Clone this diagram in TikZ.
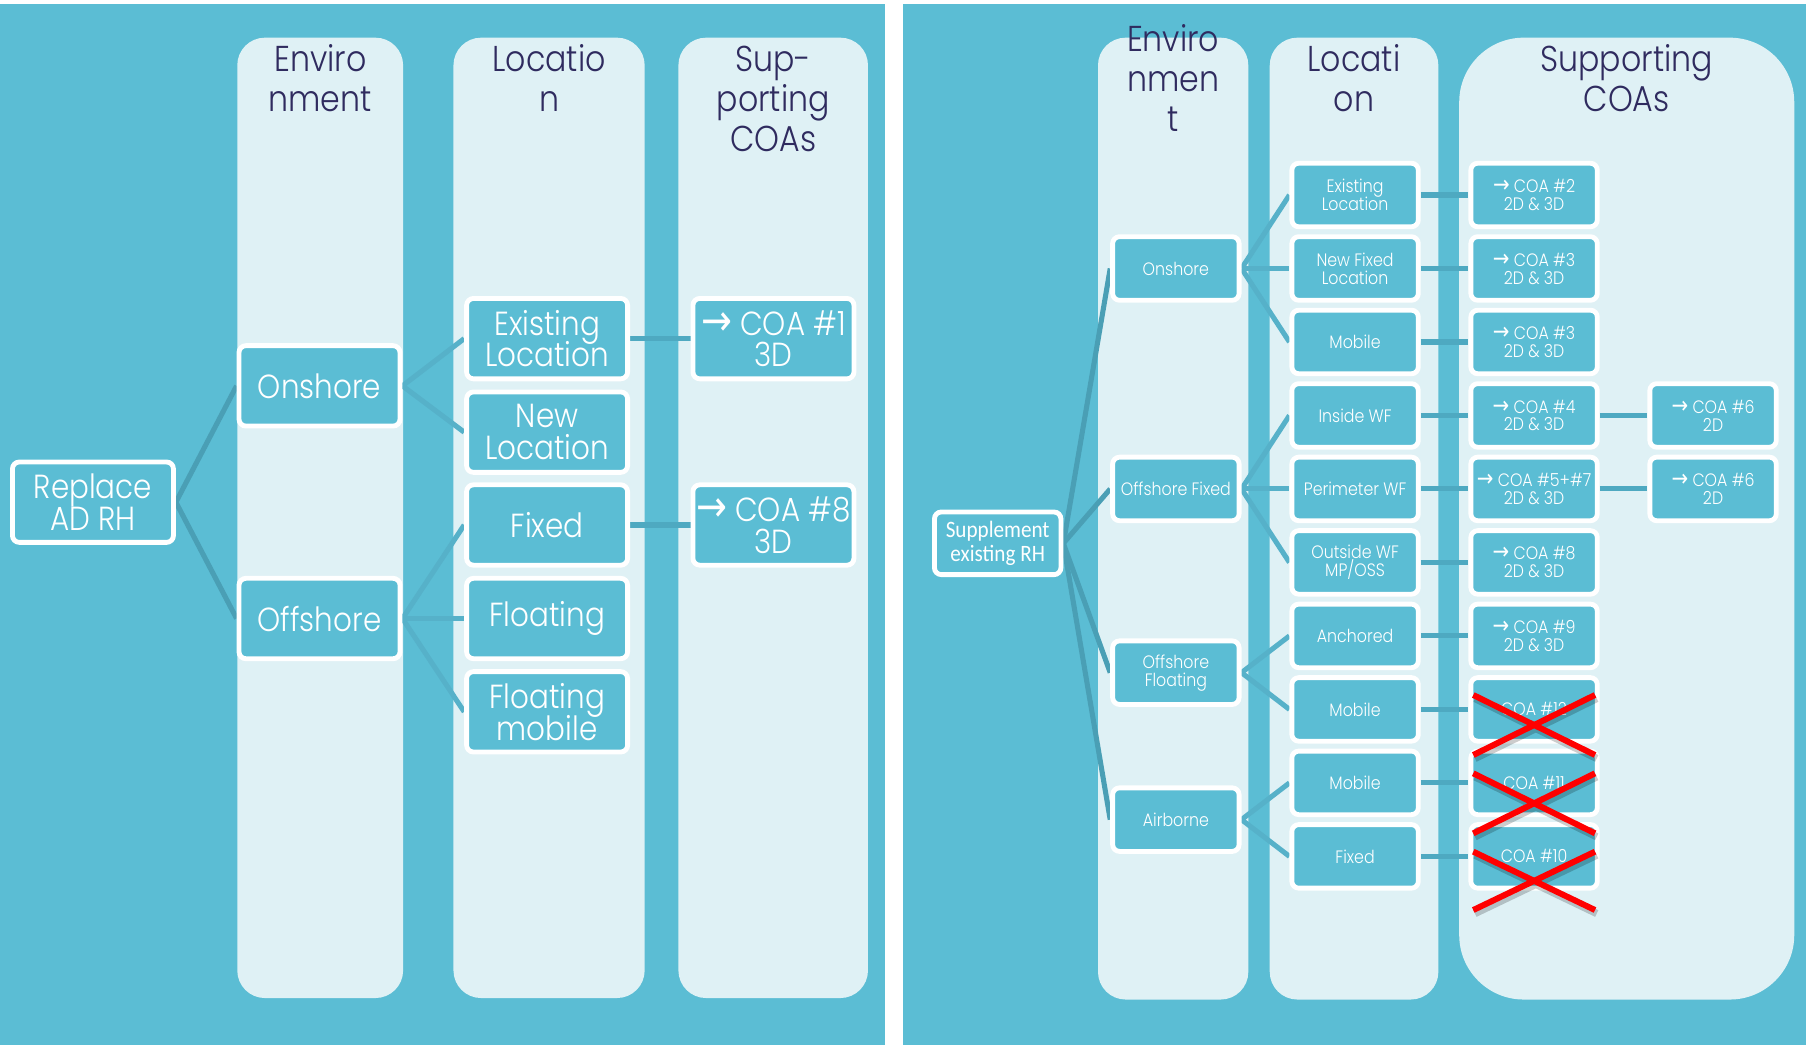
\documentclass[tikz,border=0pt]{standalone}
\usepackage{fontspec}
\setmainfont{Poppins}[UprightFont={* Light}, FakeStretch=0.88]
\newfontfamily\calfont{Carlito}[FakeStretch=0.9]
\newfontfamily\arrowfont{DejaVu Sans}[Scale=1.3, FakeStretch=0.85]
\usetikzlibrary{calc}

\definecolor{panel}{HTML}{5BBDD4}
\definecolor{lane}{HTML}{DFF1F5}
\definecolor{navy}{HTML}{2F2B5F}
\definecolor{linkdark}{HTML}{4A9FB5}
\definecolor{linklight}{HTML}{56B1C9}
\definecolor{linkmid}{HTML}{4EA9C1}
\definecolor{crossred}{HTML}{FF0000}

\pgfdeclarelayer{back}
\pgfdeclarelayer{links}
\pgfsetlayers{back,links,main}

\newcommand\tightlines{\lineskiplimit=-100pt\relax}
\newcommand\bigtxt{\fontsize{14.5}{13.8}\selectfont\tightlines}
\newcommand\smalltxt{\fontsize{7.8}{7.8}\selectfont\tightlines}
\newcommand\headtxt{\fontsize{15.6}{17.35}\selectfont}
\newcommand\arr{{\arrowfont →}}

\tikzset{
  boxbase/.style={draw=white, fill=panel, text=white, rounded corners=3pt,
    align=center, inner sep=1pt, line width=2.1pt},
  bigbox/.style={boxbase, minimum width=69.9pt, minimum height=34.9pt, font=\bigtxt},
  smallbox/.style={boxbase, minimum width=54.9pt, minimum height=27.6pt, font=\smalltxt},
  rootbox/.style={boxbase, minimum width=54.9pt, minimum height=27.2pt,
    font=\calfont\fontsize{10.2}{10.4}\selectfont\tightlines},
  head/.style={anchor=base, inner sep=0pt, text=navy, font=\headtxt},
  link/.style={line width=2.2pt},
  mainlink/.style={link, draw=linkdark},
  sublink/.style={link, draw=linklight},
  coalink/.style={link, draw=linkmid},
  strike/.style={crossred, line width=2.6pt},
  strikeshade/.style={black, opacity=0.2, line width=3.2pt}
}

\begin{document}
\begin{tikzpicture}[x=0.5pt, y=-0.5pt]
\useasboundingbox (0,0) rectangle (1568,907);

% panels and lanes
\begin{pgfonlayer}{back}
  \fill[white] (0,0) rectangle (1568,907);
  \fill[panel] (0,3.5) rectangle (768.4,907);
  \fill[panel] (784,3.5) rectangle (1568,907);
  \fill[lane, rounded corners=12pt] (206,32.7) rectangle (350,866.5);
  \fill[lane, rounded corners=12pt] (393.7,32.7) rectangle (559.7,866.5);
  \fill[lane, rounded corners=12pt] (589,32.7) rectangle (753.6,866.5);
  \fill[lane, rounded corners=12pt] (953.3,32.7) rectangle (1083.8,867.8);
  \fill[lane, rounded corners=12pt] (1102.4,32.7) rectangle (1248.8,867.8);
  \fill[lane, rounded corners=28pt] (1266.9,32.7) rectangle (1557.8,867.8);
\end{pgfonlayer}

% lane headings, left chart
\node[head] (hEnvA) at (278,62.2) {Enviro};
\node[head] (hEnvB) at (278,97) {nment};
\node[head] (hLocA) at (476.7,62.2) {Locatio};
\node[head] (hLocB) at (476.7,97) {n};
\node[head] (hSupA) at (671.3,62.2) {Sup-};
\node[head] (hSupB) at (671.3,97) {porting};
\node[head] (hSupC) at (671.3,131.7) {COAs};

% lane headings, right chart
\node[head] (kEnvA) at (1018.5,44.9) {Enviro};
\node[head] (kEnvB) at (1018.5,79.6) {nmen};
\node[head] (kEnvC) at (1018.5,113.8) {t};
\node[head] (kLocA) at (1175.6,62.2) {Locati};
\node[head] (kLocB) at (1175.6,97) {on};
\node[head] (kSupA) at (1412.3,62.2) {Supporting};
\node[head] (kSupB) at (1412.3,97) {COAs};

% left chart: replace
\node[bigbox] (replace) at (80.7,436) {Replace\\AD RH};
\node[bigbox] (onL) at (277.4,335) {Onshore};
\node[bigbox] (offL) at (277.4,537) {Offshore};
\node[bigbox] (exL) at (475,294) {Existing\\Location};
\node[bigbox] (newL) at (475,375.2) {New\\Location};
\node[bigbox] (fixL) at (475,455.8) {Fixed};
\node[bigbox] (flL) at (475,537) {Floating};
\node[bigbox] (flmL) at (475,618) {Floating\\mobile};
\node[bigbox] (coaA) at (671.5,294) {\arr\ COA \#1\\3D};
\node[bigbox] (coaB) at (671.5,455.8) {\arr\ COA \#8\\3D};

% right chart: supplement
\node[rootbox] (supp) at (866.2,471.7) {Supplement\\existing RH};
\node[smallbox] (onR) at (1020.9,233.1) {Onshore};
\node[smallbox] (ofixR) at (1020.9,424.5) {Offshore Fixed};
\node[smallbox] (oflR) at (1020.9,584) {Offshore\\Floating};
\node[smallbox] (airR) at (1020.9,711.6) {Airborne};

\node[smallbox] (l0) at (1176.5,169.3) {Existing\\Location};
\node[smallbox] (l1) at (1176.5,233.1) {New Fixed\\Location};
\node[smallbox] (l2) at (1176.5,296.9) {Mobile};
\node[smallbox] (l3) at (1176.5,360.7) {Inside WF};
\node[smallbox] (l4) at (1176.5,424.5) {Perimeter WF};
\node[smallbox] (l5) at (1176.5,488.3) {Outside WF\\MP/OSS};
\node[smallbox] (l6) at (1176.5,552.1) {Anchored};
\node[smallbox] (l7) at (1176.5,615.9) {Mobile};
\node[smallbox] (l8) at (1176.5,679.7) {Mobile};
\node[smallbox] (l9) at (1176.5,743.5) {Fixed};

\node[smallbox] (c0) at (1331.9,169.3) {\arr\ COA \#2\\2D \& 3D};
\node[smallbox] (c1) at (1331.9,233.1) {\arr\ COA \#3\\2D \& 3D};
\node[smallbox] (c2) at (1331.9,296.9) {\arr\ COA \#3\\2D \& 3D};
\node[smallbox] (c3) at (1331.9,360.7) {\arr\ COA \#4\\2D \& 3D};
\node[smallbox] (c4) at (1331.9,424.5) {\arr\ COA \#5+\#7\\2D \& 3D};
\node[smallbox] (c5) at (1331.9,488.3) {\arr\ COA \#8\\2D \& 3D};
\node[smallbox] (c6) at (1331.9,552.1) {\arr\ COA \#9\\2D \& 3D};
\node[smallbox] (c7) at (1331.9,615.9) {COA \#12};
\node[smallbox] (c8) at (1331.9,679.7) {COA \#11};
\node[smallbox] (c9) at (1331.9,743.5) {COA \#10};

\node[smallbox] (d3) at (1487.3,360.7) {\arr\ COA \#6\\2D};
\node[smallbox] (d4) at (1487.3,424.5) {\arr\ COA \#6\\2D};

% connectors, kept under the boxes
\begin{pgfonlayer}{links}
  \draw[mainlink] (replace.east) -- (onL.west);
  \draw[mainlink] (replace.east) -- (offL.west);
  \draw[sublink] (onL.east) -- (exL.west);
  \draw[sublink] (onL.east) -- (newL.west);
  \draw[sublink] (offL.east) -- (fixL.west);
  \draw[sublink] (offL.east) -- (flL.west);
  \draw[sublink] (offL.east) -- (flmL.west);
  \draw[coalink] (exL.east) -- (coaA.west);
  \draw[coalink] (fixL.east) -- (coaB.west);

  \foreach \e in {onR,ofixR,oflR,airR}
    \draw[mainlink] (supp.east) -- (\e.west);
  \foreach \e/\l in {onR/l0,onR/l1,onR/l2,ofixR/l3,ofixR/l4,ofixR/l5,oflR/l6,oflR/l7,airR/l8,airR/l9}
    \draw[sublink] (\e.east) -- (\l.west);
  \foreach \k in {0,...,9}
    \draw[coalink] (l\k.east) -- (c\k.west);
  \draw[coalink] (c3.east) -- (d3.west);
  \draw[coalink] (c4.east) -- (d4.west);
\end{pgfonlayer}

% struck-out options
\foreach \ya/\yb in {603.4/655.5, 671.4/723.5, 739.4/790.1} {
  \draw[strikeshade] (1280.6,\ya+3) -- (1386.3,\yb+3) (1280.6,\yb+3) -- (1386.3,\ya+3);
  \draw[strike] (1279.1,\ya) -- (1384.8,\yb) (1279.1,\yb) -- (1384.8,\ya);
}
\end{tikzpicture}
\end{document}
